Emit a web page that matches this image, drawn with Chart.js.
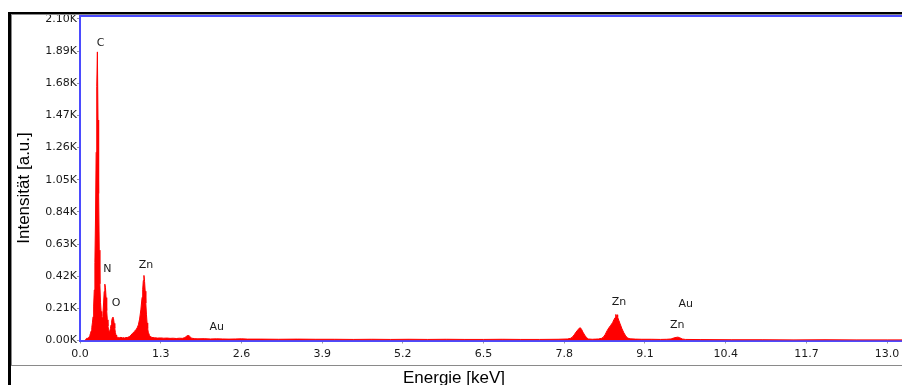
<!DOCTYPE html>
<html>
<head>
<meta charset="utf-8">
<script src="https://cdn.jsdelivr.net/npm/chart.js@4.4.1/dist/chart.umd.min.js"></script>
<style>
  html, body { margin: 0; padding: 0; background: #fff; width: 902px; height: 385px; overflow: hidden; }
  #outer { position: absolute; left: 8px; top: 12px; width: 1000px; height: 500px;
           border-left: 3px solid #000; border-top: 2px solid #000; }
  #inner { position: absolute; left: 11px; top: 14px; width: 1000px; height: 350px;
           border-left: 1px solid #8a8a8a; border-top: 1px solid #8a8a8a; border-bottom: 1px solid #8a8a8a; }
  #chart { position: absolute; left: 0; top: 15px; }
</style>
</head>
<body>
<div id="outer"></div>
<div id="inner"></div>
<canvas id="chart" width="902" height="370"></canvas>
<script>
// ---- data ----
const energyKeV = [
  0.08,0.09,0.10,0.11,0.12,0.13,0.14,0.15,0.16,0.17,0.18,0.19,
  0.20,0.21,0.22,0.23,0.24,0.25,0.26,0.27,0.28,0.29,
  0.30,0.31,0.32,0.33,0.34,0.35,0.36,0.37,0.38,0.39,
  0.40,0.41,0.42,0.43,0.44,0.45,0.46,0.47,0.48,0.49,
  0.50,0.51,0.52,0.53,0.54,0.55,0.56,0.57,0.58,0.59,
  0.60,0.62,0.64,0.66,0.68,0.70,0.72,0.74,0.76,0.78,
  0.80,0.82,0.84,0.86,0.88,0.90,0.92,0.94,0.96,0.98,
  1.00,1.01,1.02,1.03,1.04,1.05,1.06,1.07,1.08,1.09,
  1.10,1.12,1.14,1.16,1.20,1.25,1.30,1.35,1.40,1.45,
  1.50,1.55,1.60,1.65,1.68,1.70,1.72,1.74,1.76,1.78,
  1.80,1.85,1.90,2.00,2.10,2.20,2.30,2.40,2.50,2.60,
  2.70,2.90,3.20,3.50,3.80,4.10,4.40,4.70,5.00,5.30,
  5.60,5.90,6.20,6.50,6.80,7.10,7.40,7.70,7.85,7.90,
  7.93,7.96,7.99,8.02,8.04,8.06,8.08,8.10,8.13,8.16,
  8.19,8.25,8.30,8.35,8.40,8.43,8.46,8.49,8.52,8.55,
  8.58,8.60,8.62,8.63,8.64,8.65,8.66,8.68,8.70,8.73,
  8.76,8.79,8.82,8.86,8.95,9.05,9.20,9.35,9.45,9.52,
  9.56,9.60,9.63,9.66,9.70,9.75,10.00,10.50,11.00,11.50,
  12.00,12.50,13.00,13.24
];
const counts = [
  0,6,12,15,14,18,21,26,36,48,62,85,
  115,155,225,330,510,800,1230,1660,1885,1440,
  960,590,370,250,190,158,148,175,245,320,
  368,345,280,195,135,95,70,58,62,78,
  102,128,146,153,142,112,80,52,35,26,
  22,20,18,21,17,19,16,20,19,23,
  27,35,44,53,61,70,82,102,140,200,
  282,335,392,425,385,322,245,172,115,78,
  54,33,24,20,18,16,17,15,16,14,
  15,13,15,14,18,23,29,33,30,22,
  15,12,11,12,10,11,10,9,10,11,
  9,9,8,9,8,8,7,8,7,8,
  7,8,7,7,8,7,7,8,10,14,
  22,37,55,70,80,83,72,55,35,18,
  10,8,9,10,14,22,40,64,84,100,
  118,136,150,170,146,168,152,130,108,76,
  50,30,16,11,9,8,8,7,8,10,
  16,20,22,18,10,7,6,5,5,4,
  5,4,4,4
];
const xTickValues = [0.0,1.3,2.6,3.9,5.2,6.5,7.8,9.1,10.4,11.7,13.0];
const yTickValues = [0,210,420,630,840,1050,1260,1470,1680,1890,2100];
const peakLabels  = ['C','N','O','Zn','Au','Zn','Au','Zn'];
const labelEnergy = [0.332,0.441,0.581,1.064,2.203,8.681,9.755,9.620];
const labelCounts = [1940,464,247,495,90,253,238,101];
const xMax = 13.24;
const yMax = 2126;

const BLUE = '#4b4bff';
const RED = '#ff0000';
const TICKFONT = { family: 'DejaVu Sans', size: 11 };

const points = energyKeV.map((e, i) => ({ x: e, y: counts[i] }));

const decorPlugin = {
  id: 'decor',
  afterDatasetsDraw(chart) {
    const { ctx, scales } = chart;
    ctx.save();
    ctx.fillStyle = '#1a1a1a';
    ctx.font = '11px "DejaVu Sans"';
    ctx.textAlign = 'center';
    ctx.textBaseline = 'middle';
    peakLabels.forEach((t, i) => {
      ctx.fillText(t, scales.x.getPixelForValue(labelEnergy[i]), scales.y.getPixelForValue(labelCounts[i]));
    });
    ctx.restore();
  },
  afterDraw(chart) {
    const { ctx, chartArea } = chart;
    ctx.save();
    ctx.strokeStyle = BLUE;
    ctx.lineWidth = 2;
    ctx.beginPath();
    ctx.moveTo(chartArea.left, chartArea.top + 1);
    ctx.lineTo(chartArea.right, chartArea.top + 1);
    ctx.stroke();
    ctx.fillStyle = '#000';
    ctx.font = '17px "Liberation Sans"';
    ctx.textAlign = 'center';
    ctx.textBaseline = 'alphabetic';
    ctx.fillText('Energie [keV]', 454, 368);
    ctx.translate(29, 173);
    ctx.rotate(-Math.PI / 2);
    ctx.fillText('Intensität [a.u.]', 0, 0);
    ctx.restore();
  }
};

new Chart(document.getElementById('chart'), {
  type: 'line',
  data: {
    datasets: [{
      data: points,
      borderColor: RED,
      backgroundColor: RED,
      borderWidth: 1,
      pointRadius: 0,
      tension: 0,
      fill: 'origin'
    }]
  },
  options: {
    responsive: false,
    animation: false,
    devicePixelRatio: 1,
    layout: { padding: 0 },
    plugins: { legend: { display: false }, tooltip: { enabled: false } },
    scales: {
      x: {
        type: 'linear',
        min: 0, max: xMax,
        afterBuildTicks: s => { s.ticks = xTickValues.map(v => ({ value: v })); },
        afterFit: s => { s.height = 44.5; s.paddingLeft = 0; s.paddingRight = 0; },
        ticks: {
          callback: v => Number(v).toFixed(1),
          font: TICKFONT, color: '#1a1a1a', padding: 4,
          maxRotation: 0, autoSkip: false
        },
        grid: { drawOnChartArea: false, drawTicks: true, tickLength: 3, color: '#9a9a9a' },
        border: { color: BLUE, width: 2 }
      },
      y: {
        type: 'linear',
        min: 0, max: yMax,
        afterBuildTicks: s => { s.ticks = yTickValues.map(v => ({ value: v })); },
        afterFit: s => { s.width = 80; s.paddingTop = 0; s.paddingBottom = 0; },
        ticks: {
          callback: v => (v / 1000).toFixed(2) + 'K',
          font: TICKFONT, color: '#1a1a1a', padding: 0, autoSkip: false
        },
        grid: { drawOnChartArea: false, drawTicks: true, tickLength: 3, color: '#9a9a9a' },
        border: { color: BLUE, width: 2 }
      }
    }
  },
  plugins: [decorPlugin]
});
</script>
</body>
</html>
